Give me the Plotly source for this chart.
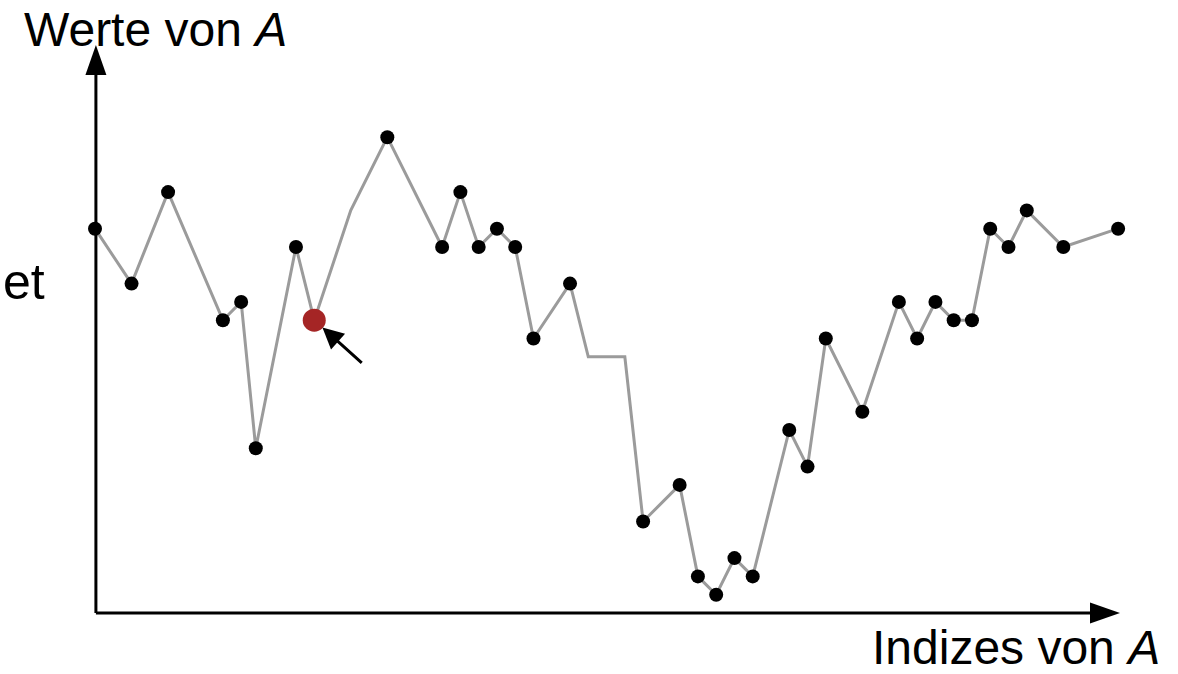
import plotly.graph_objects as go

# Index positions and values of A along the polyline
idx = [0, 2, 4, 7, 8, 8.8, 11, 12, 14, 16, 19, 20, 21, 22, 23, 24, 26, 27, 29, 30,
       32, 33, 34, 35, 36, 38, 39, 40, 42, 44, 45, 46, 47, 48, 49, 50, 51, 53, 56]
vals = [21, 18, 23, 16, 17, 9, 20, 16, 22, 26, 20, 23, 20, 21, 20, 15, 18, 14, 14, 5,
        7, 2, 1, 3, 2, 10, 8, 15, 11, 17, 15, 17, 16, 16, 21, 20, 22, 20, 21]
# Vertices that carry a dot (bends without a dot are left out)
dotted = [True, True, True, True, True, True, True, False, False, True, True, True, True,
          True, True, True, True, False, False, True, True, True, True, True, True, True,
          True, True, True, True, True, True, True, True, True, True, True, True, True]
# Highlighted element
hl_idx = 12
hl_val = 16

W, H = 1178, 674
XS, YS = 18.27, 18.3          # pixels per unit
X0, Y0 = 95, 613              # pixel position of the origin
x_range = [-X0 / XS, (W - X0) / XS]
y_range = [-(H - Y0) / YS, Y0 / YS]

dot_x = [x for x, d in zip(idx, dotted) if d]
dot_y = [y for y, d in zip(vals, dotted) if d]

fig = go.Figure()
fig.add_trace(go.Scatter(x=idx, y=vals, mode="lines",
                         line=dict(color="#9b9b9b", width=3), hoverinfo="skip"))
fig.add_trace(go.Scatter(x=dot_x, y=dot_y, mode="markers",
                         marker=dict(color="black", size=14), hoverinfo="skip"))
fig.add_trace(go.Scatter(x=[hl_idx], y=[hl_val], mode="markers",
                         marker=dict(color="#a52525", size=23), hoverinfo="skip"))

# Axis arrows
ax_x0 = 0.05
x_tip = (1120 - X0) / XS
y_tip = (Y0 - 45) / YS
head_len_x = 30 / XS
head_half_y = 10.5 / YS
head_len_y = 30 / YS
head_half_x = 10.5 / XS

shapes = [
    dict(type="line", x0=ax_x0, y0=0, x1=ax_x0, y1=y_tip - head_len_y * 0.5,
         xref="x", yref="y", line=dict(color="black", width=3)),
    dict(type="line", x0=ax_x0, y0=0, x1=x_tip - head_len_x * 0.5, y1=0,
         xref="x", yref="y", line=dict(color="black", width=3)),
    dict(type="path", xref="x", yref="y", fillcolor="black", line=dict(width=0),
         path=f"M{ax_x0},{y_tip} L{ax_x0 - head_half_x},{y_tip - head_len_y} "
              f"L{ax_x0 + head_half_x},{y_tip - head_len_y} Z"),
    dict(type="path", xref="x", yref="y", fillcolor="black", line=dict(width=0),
         path=f"M{x_tip},0 L{x_tip - head_len_x},{head_half_y} "
              f"L{x_tip - head_len_x},{-head_half_y} Z"),
]

font = dict(family="Liberation Sans, Arial, sans-serif", color="black")
annotations = [
    dict(text="Werte von <i>A</i>", x=22 / W, y=1 - 1 / H, xref="paper", yref="paper",
         xanchor="left", yanchor="top", showarrow=False, font=dict(size=48, **font)),
    dict(text="Indizes von <i>A</i>", x=1162 / W, y=1 - 676 / H, xref="paper", yref="paper",
         xanchor="right", yanchor="bottom", showarrow=False, font=dict(size=48, **font)),
    dict(text="et", x=1 / W, y=1 - 282 / H, xref="paper", yref="paper",
         xanchor="left", yanchor="middle", showarrow=False, font=dict(size=50, **font)),
    dict(x=hl_idx, y=hl_val, xref="x", yref="y", text="", showarrow=True,
         ax=49, ay=44, arrowhead=2, arrowsize=1.4, arrowwidth=3,
         arrowcolor="black", standoff=11),
]

fig.update_layout(
    width=W, height=H,
    margin=dict(l=0, r=0, t=0, b=0),
    paper_bgcolor="white", plot_bgcolor="white",
    showlegend=False,
    xaxis=dict(range=x_range, visible=False, fixedrange=True),
    yaxis=dict(range=y_range, visible=False, fixedrange=True),
    shapes=shapes,
    annotations=annotations,
)

fig.write_html("out.html")
